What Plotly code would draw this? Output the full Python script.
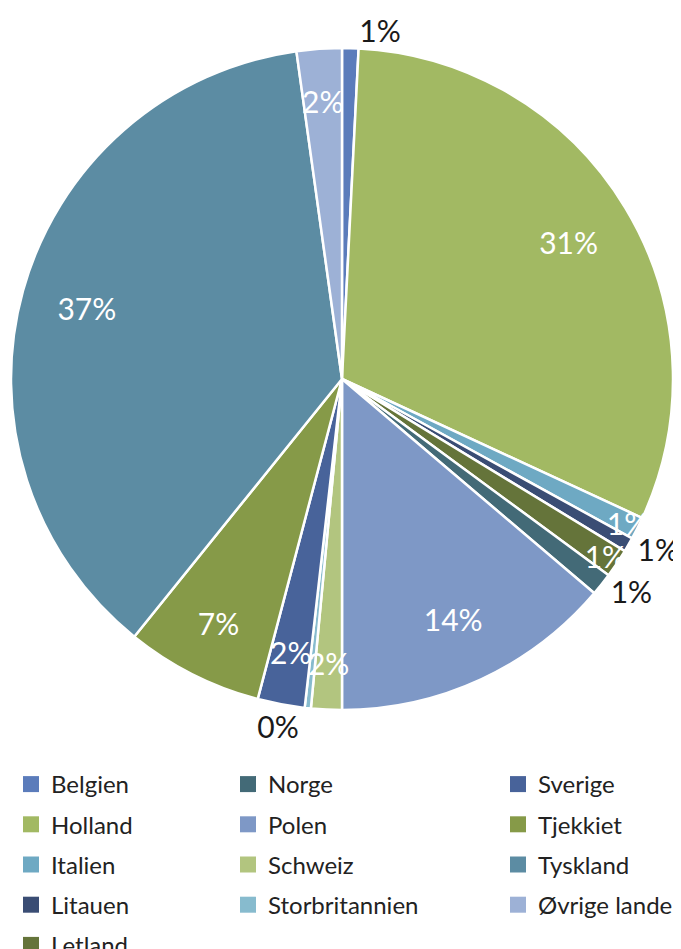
import plotly.graph_objects as go

countries = ["Belgien", "Holland", "Italien", "Litauen", "Letland", "Norge", "Polen",
             "Schweiz", "Storbritannien", "Sverige", "Tjekkiet", "Tyskland", "Øvrige lande"]
shares = [0.8, 31.1, 1.1, 0.7, 1.4, 1.1, 13.8, 1.5, 0.3, 2.3, 6.7, 37.0, 2.2]
colors = ["#5B7CBB", "#A2B963", "#6EA9C3", "#3A4D74", "#65743A", "#436A77", "#7E98C6",
          "#B2C57F", "#87BBCE", "#48639A", "#869A48", "#5C8CA3", "#9DB1D6"]
label_pos = ["outside", "inside", "inside", "outside", "inside", "outside", "inside",
             "inside", "outside", "inside", "inside", "inside", "inside"]
# thin slices whose labels sit a little further in
thin_inner = ["Schweiz", "Sverige", "Øvrige lande"]
legend_columns = [
    ["Belgien", "Holland", "Italien", "Litauen", "Letland"],
    ["Norge", "Polen", "Schweiz", "Storbritannien"],
    ["Sverige", "Tjekkiet", "Tyskland", "Øvrige lande"],
]

FONT = "Lato, 'Open Sans', sans-serif"
W, H = 673, 941  # page body adds an 8px offset
CX, CY, R = 334, 371, 331
text_colors = ["#ffffff" if p == "inside" else "#1a1a1a" for p in label_pos]


def domain_for(radius):
    return dict(x=[(CX - radius) / W, (CX + radius) / W],
                y=[(H - CY - radius) / H, (H - CY + radius) / H])


clear = ["rgba(0,0,0,0)"] * len(countries)
pos_main = ["none" if c in thin_inner else p for c, p in zip(countries, label_pos)]
pos_thin = [p if c in thin_inner else "none" for c, p in zip(countries, label_pos)]

fig = go.Figure()
# coloured slices
fig.add_trace(go.Pie(
    labels=countries, values=shares, sort=False, direction="clockwise", rotation=0,
    marker=dict(colors=colors, line=dict(color="#ffffff", width=2.5)),
    textinfo="none", showlegend=False, hoverinfo="label+percent",
    domain=domain_for(R),
))
# percentage labels placed in the outer ring of the same pie
fig.add_trace(go.Pie(
    labels=countries, values=shares, sort=False, direction="clockwise", rotation=0,
    hole=0.6, marker=dict(colors=clear, line=dict(width=0)),
    texttemplate="%{percent:.0%}", textposition=pos_main,
    insidetextorientation="horizontal",
    textfont=dict(family=FONT, size=30, color=text_colors),
    showlegend=False, hoverinfo="skip", domain=domain_for(R),
))
# labels of the thin 2% slices
fig.add_trace(go.Pie(
    labels=countries, values=shares, sort=False, direction="clockwise", rotation=0,
    marker=dict(colors=clear, line=dict(width=0)),
    texttemplate="%{percent:.0%}", textposition=pos_thin,
    insidetextorientation="horizontal",
    textfont=dict(family=FONT, size=30, color=text_colors),
    showlegend=False, hoverinfo="skip", domain=domain_for(R * 0.9),
))

color_of = dict(zip(countries, colors))
legend_names = ["legend", "legend2", "legend3"]
for li, col in enumerate(legend_columns):
    for name in col:
        fig.add_trace(go.Scatter(
            x=[None], y=[None], mode="markers", name=name,
            marker=dict(symbol="square", size=16, color=color_of[name]),
            legend=legend_names[li], legendgroup=name, showlegend=True,
        ))

leg_common = dict(font=dict(family=FONT, size=24, color="#222222"),
                  orientation="v", yanchor="top", xanchor="left",
                  tracegroupgap=6, bgcolor="rgba(0,0,0,0)", itemsizing="trace")
top = (H - 754) / H
fig.update_layout(
    width=W, height=H,
    margin=dict(l=0, r=0, t=0, b=0, autoexpand=False),
    paper_bgcolor="#ffffff", plot_bgcolor="#ffffff",
    uniformtext=dict(minsize=30, mode="show"),
    xaxis=dict(visible=False), yaxis=dict(visible=False),
    legend=dict(x=3 / W, y=top, **leg_common),
    legend2=dict(x=220 / W, y=top, **leg_common),
    legend3=dict(x=490 / W, y=top, **leg_common),
)
fig.write_html("out.html")
